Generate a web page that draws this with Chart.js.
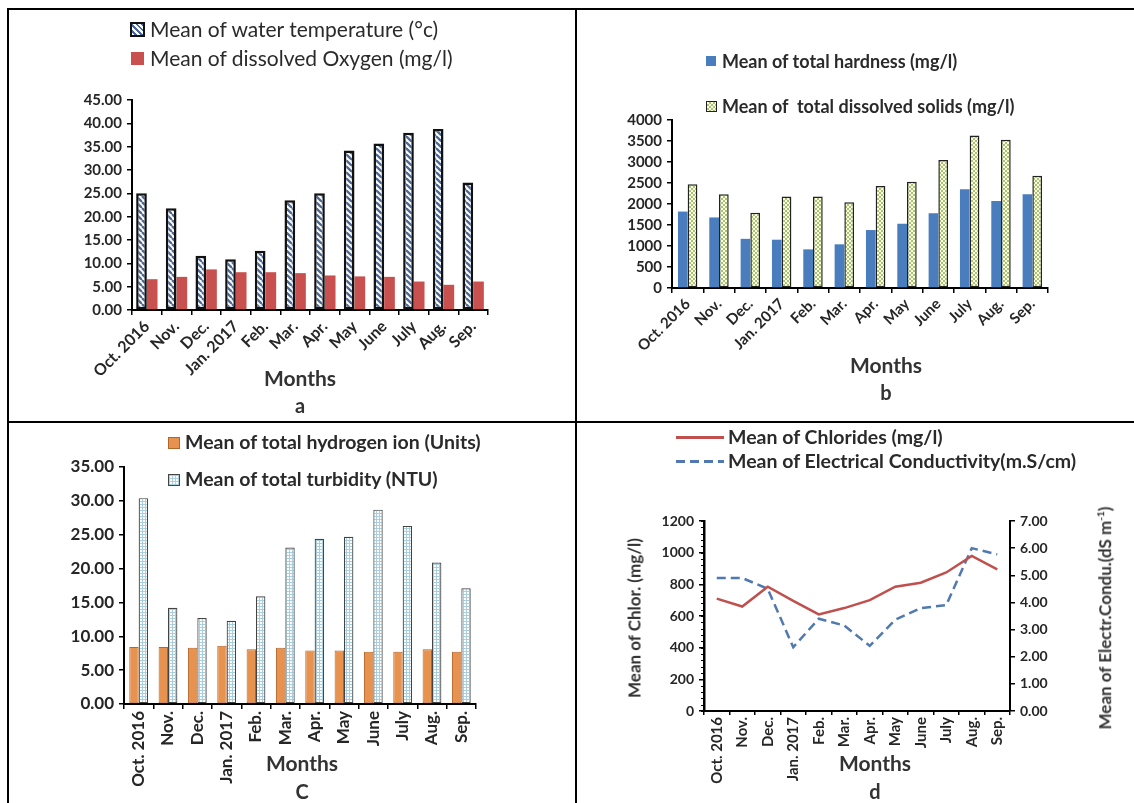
<!DOCTYPE html>
<html><head><meta charset="utf-8">
<script src="https://cdn.jsdelivr.net/npm/chart.js@4.4.1/dist/chart.umd.min.js"></script>
<style>
html,body{margin:0;padding:0;background:#fff;}
body{width:1134px;height:803px;position:relative;overflow:hidden;font-family:Lato,"Open Sans",sans-serif;color:#333;}
.ln{position:absolute;background:#000;}
canvas{position:absolute;}
.lg{position:absolute;white-space:pre;line-height:1;color:#2a2a2a;}
.mk{position:absolute;box-sizing:border-box;}
.t{position:absolute;white-space:pre;line-height:1;transform:translate(-50%,-50%);font-weight:700;color:#333;}
</style></head><body>

<div class="ln" style="left:7px;top:8px;width:1127px;height:2px"></div>
<div class="ln" style="left:7px;top:8px;width:2px;height:795px"></div>
<div class="ln" style="left:575px;top:8px;width:2px;height:795px"></div>
<div class="ln" style="left:7px;top:421px;width:1127px;height:2px"></div>

<canvas id="ca"></canvas>
<canvas id="cb"></canvas>
<canvas id="cc"></canvas>
<canvas id="cd"></canvas>

<!-- panel a legend -->
<div class="mk" style="left:130px;top:22px;width:15px;height:15px;border:2px solid #111;background:repeating-linear-gradient(45deg,#fff 0 2px,#4a6a9e 2px 4px)"></div>
<div class="lg" style="left:150px;top:18px;font-size:21px">Mean of water temperature (°c)</div>
<div class="mk" style="left:131px;top:52px;width:13px;height:13px;background:#c8504e"></div>
<div class="lg" style="left:150px;top:47px;font-size:21px">Mean of dissolved Oxygen (mg/l)</div>
<div class="t" style="left:300px;top:377px;font-size:21px">Months</div>
<div class="t" style="left:300px;top:405px;font-size:20px">a</div>

<!-- panel b legend -->
<div class="mk" style="left:706px;top:56px;width:10px;height:10px;background:#4a7dbd"></div>
<div class="lg" style="left:722px;top:52px;font-size:18px;font-weight:700">Mean of total hardness (mg/l)</div>
<div class="mk" style="left:706px;top:101px;width:11px;height:11px;border:1px solid #222;background:repeating-conic-gradient(#a9c46c 0 25%,#fbfde8 0 50%) 0 0/4px 4px"></div>
<div class="lg" style="left:722px;top:97px;font-size:18px;font-weight:700">Mean of  total dissolved solids (mg/l)</div>
<div class="t" style="left:886px;top:364px;font-size:21px">Months</div>
<div class="t" style="left:886px;top:392px;font-size:20px">b</div>

<!-- panel c legend -->
<div class="mk" style="left:168px;top:437px;width:12px;height:12px;border:1px solid #b5652a;background:#e8924f"></div>
<div class="lg" style="left:185px;top:432px;font-size:19.5px;font-weight:700">Mean of total hydrogen ion (Units)</div>
<div class="mk" style="left:168px;top:474px;width:12px;height:12px;border:1px solid #444;background-color:#fff;background-image:linear-gradient(#a8cfe0 1px,transparent 1px),linear-gradient(90deg,#a8cfe0 1px,transparent 1px);background-size:3px 3px"></div>
<div class="lg" style="left:185px;top:469px;font-size:19.5px;font-weight:700">Mean of total turbidity (NTU)</div>
<div class="t" style="left:302px;top:762px;font-size:21px">Months</div>
<div class="t" style="left:302px;top:791px;font-size:20px">C</div>

<!-- panel d legend -->
<div class="mk" style="left:676px;top:436px;width:48px;height:3px;background:#c0504d"></div>
<div class="lg" style="left:728px;top:427px;font-size:19.5px;font-weight:700">Mean of Chlorides (mg/l)</div>
<div class="mk" style="left:676px;top:460px;width:48px;height:3px;background:repeating-linear-gradient(90deg,#4f79b0 0 9px,transparent 9px 14px)"></div>
<div class="lg" style="left:728px;top:451px;font-size:19.5px;font-weight:700">Mean of Electrical Conductivity(m.S/cm)</div>
<div class="t" style="left:634px;top:618px;font-size:17px;transform:translate(-50%,-50%) rotate(-90deg)">Mean of Chlor. (mg/l)</div>
<div class="t" style="left:1104px;top:618px;font-size:17px;transform:translate(-50%,-50%) rotate(-90deg)">Mean of Electr.Condu.(dS m<sup style="font-size:10px">-1</sup>)</div>
<div class="t" style="left:875px;top:762px;font-size:21px">Months</div>
<div class="t" style="left:875px;top:791px;font-size:20px">d</div>

<script>
// ---------------- data ----------------
const months = ['Oct. 2016','Nov.','Dec.','Jan. 2017','Feb.','Mar.','Apr.','May','June','July','Aug.','Sep.'];

const waterTemp = [25.0, 21.8, 11.6, 10.9, 12.7, 23.5, 25.0, 34.2, 35.7, 38.0, 38.8, 27.3];
const dissolvedOxygen = [6.6, 7.1, 8.7, 8.1, 8.1, 7.9, 7.4, 7.2, 7.1, 6.1, 5.4, 6.1];
const tempTicks = [0, 5, 10, 15, 20, 25, 30, 35, 40, 45];

const totalHardness = [1820, 1680, 1170, 1150, 920, 1040, 1380, 1530, 1780, 2350, 2070, 2230];
const totalDissolvedSolids = [2470, 2230, 1790, 2180, 2180, 2040, 2430, 2530, 3050, 3630, 3530, 2670];
const hardTicks = [0, 500, 1000, 1500, 2000, 2500, 3000, 3500, 4000];

const hydrogenIon = [8.4, 8.4, 8.3, 8.6, 8.1, 8.3, 7.9, 7.9, 7.7, 7.7, 8.1, 7.7];
const turbidity = [30.4, 14.2, 12.7, 12.3, 15.9, 23.1, 24.4, 24.7, 28.7, 26.3, 20.9, 17.1];
const phTicks = [0, 5, 10, 15, 20, 25, 30, 35];

const chlorides = [710, 660, 785, 695, 610, 650, 700, 785, 810, 875, 980, 895];
const conductivity = [4.90, 4.90, 4.50, 2.35, 3.40, 3.15, 2.40, 3.36, 3.79, 3.90, 6.00, 5.77];
const chlorTicks = [0, 200, 400, 600, 800, 1000, 1200];
const ecTicks = [0, 1, 2, 3, 4, 5, 6, 7];

// ---------------- layout ----------------
const FONT = 'Lato, "Open Sans", sans-serif';
Chart.defaults.font.family = FONT;
Chart.defaults.color = '#262626';

function place(id, rect){
  const c = document.getElementById(id);
  c.style.left = rect.x + 'px'; c.style.top = rect.y + 'px';
  c.width = rect.w; c.height = rect.h;
  c.style.width = rect.w + 'px'; c.style.height = rect.h + 'px';
  return c;
}
function geom(rect, plot){
  return {padTop: plot.t - rect.y, padRight: rect.x + rect.w - plot.r,
          yW: plot.l - rect.x, xH: rect.y + rect.h - plot.b};
}
function tileCanvas(w, h, draw){
  const t = document.createElement('canvas'); t.width = w; t.height = h;
  draw(t.getContext('2d'), w, h); return t;
}
function patterns(ctx){
  const hatch = ctx.createPattern(tileCanvas(6, 6, (g, s) => {
    g.fillStyle = '#fff'; g.fillRect(0, 0, s, s);
    g.strokeStyle = '#4a6a9e'; g.lineWidth = 2.3;
    for (let k = -1; k <= 1; k++){ g.beginPath(); g.moveTo(k*s, 0); g.lineTo(k*s + s, s); g.stroke(); }
  }), 'repeat');
  const checker = ctx.createPattern(tileCanvas(4, 4, (g) => {
    g.fillStyle = '#fbfde8'; g.fillRect(0, 0, 4, 4);
    g.fillStyle = '#a9c46c'; g.fillRect(0, 0, 2, 2); g.fillRect(2, 2, 2, 2);
  }), 'repeat');
  const grid = ctx.createPattern(tileCanvas(3, 3, (g) => {
    g.fillStyle = '#fff'; g.fillRect(0, 0, 3, 3);
    g.fillStyle = '#a8cfe0'; g.fillRect(0, 0, 3, 1); g.fillRect(0, 0, 1, 3);
  }), 'repeat');
  return {hatch, checker, grid};
}
function xAxis(g, rot, size){
  return {
    offset: true,
    grid: {display: true, drawOnChartArea: false, drawTicks: true, tickLength: 5, color: '#000', lineWidth: 1.5, offset: true},
    border: {display: true, color: '#000', width: 2},
    ticks: {minRotation: rot, maxRotation: rot, autoSkip: false, padding: 2, color: '#262626',
            font: {size: size, weight: 'bold'}},
    afterFit(s){ s.height = g.xH; }
  };
}
function yAxis(g, list, min, max, fmt, size, extra){
  return Object.assign({
    min: min, max: max,
    afterBuildTicks(s){ s.ticks = list.map(v => ({value: v})); },
    grid: {display: true, drawOnChartArea: false, drawTicks: true, tickLength: 5, color: '#000', lineWidth: 1.5},
    border: {display: true, color: '#000', width: 2},
    ticks: {callback: fmt, padding: 5, color: '#262626', font: {size: size, weight: 'bold'}},
    afterFit(s){ s.width = g.yW; }
  }, extra || {});
}
const baseOpts = (g) => ({
  responsive: false, animation: false, devicePixelRatio: 1,
  layout: {padding: {top: g.padTop, right: g.padRight, left: 0, bottom: 0}},
  plugins: {legend: {display: false}, tooltip: {enabled: false}}
});

// ---------------- panel a ----------------
(function(){
  const rect = {x: 10, y: 10, w: 565, h: 411};
  const g = geom(rect, {l: 132, r: 488, t: 100, b: 310});
  const c = place('ca', rect);
  const p = patterns(c.getContext('2d'));
  const o = baseOpts(g);
  o.scales = {x: xAxis(g, 45, 16), y: yAxis(g, tempTicks, 0, 45, v => v.toFixed(2), 15)};
  new Chart(c, {type: 'bar', data: {labels: months, datasets: [
    {label: 'Mean of water temperature (°c)', data: waterTemp, backgroundColor: p.hatch,
     borderColor: '#111', borderWidth: 2.5, borderSkipped: false, categoryPercentage: 0.72, barPercentage: 1},
    {label: 'Mean of dissolved Oxygen (mg/l)', data: dissolvedOxygen, backgroundColor: '#c8504e',
     borderWidth: 0, categoryPercentage: 0.72, barPercentage: 1}
  ]}, options: o});
})();

// ---------------- panel b ----------------
(function(){
  const rect = {x: 577, y: 10, w: 557, h: 411};
  const g = geom(rect, {l: 672, r: 1048, t: 120, b: 288});
  const c = place('cb', rect);
  const p = patterns(c.getContext('2d'));
  const o = baseOpts(g);
  o.scales = {x: xAxis(g, 45, 15), y: yAxis(g, hardTicks, 0, 4000, v => String(v), 15)};
  new Chart(c, {type: 'bar', data: {labels: months, datasets: [
    {label: 'Mean of total hardness (mg/l)', data: totalHardness, backgroundColor: '#4a7dbd',
     borderWidth: 0, categoryPercentage: 0.62, barPercentage: 1},
    {label: 'Mean of  total dissolved solids (mg/l)', data: totalDissolvedSolids, backgroundColor: p.checker,
     borderColor: '#222', borderWidth: 1.5, borderSkipped: false, categoryPercentage: 0.62, barPercentage: 1}
  ]}, options: o});
})();

// ---------------- panel c ----------------
(function(){
  const rect = {x: 10, y: 423, w: 565, h: 380};
  const g = geom(rect, {l: 124, r: 476, t: 467, b: 704});
  const c = place('cc', rect);
  const p = patterns(c.getContext('2d'));
  const o = baseOpts(g);
  o.scales = {x: xAxis(g, 90, 17), y: yAxis(g, phTicks, 0, 35, v => v.toFixed(2), 17)};
  new Chart(c, {type: 'bar', data: {labels: months, datasets: [
    {label: 'Mean of total hydrogen ion (Units)', data: hydrogenIon, backgroundColor: '#e8924f',
     borderColor: '#b5652a', borderWidth: 1, borderSkipped: false, categoryPercentage: 0.64, barPercentage: 1},
    {label: 'Mean of total turbidity (NTU)', data: turbidity, backgroundColor: p.grid,
     borderColor: '#444', borderWidth: 1.2, borderSkipped: false, categoryPercentage: 0.64, barPercentage: 1}
  ]}, options: o});
})();

// ---------------- panel d ----------------
(function(){
  const rect = {x: 577, y: 423, w: 557, h: 380};
  const plot = {l: 704, r: 1010, t: 521, b: 711};
  const g = geom(rect, plot);
  const gRight = {yW: rect.x + rect.w - plot.r};
  const c = place('cd', rect);
  const o = baseOpts(g);
  o.layout.padding.right = 0;
  o.scales = {
    x: xAxis(g, 90, 15),
    y: yAxis(g, chlorTicks, 0, 1200, v => String(v), 14, {position: 'left'}),
    y2: yAxis(gRight, ecTicks, 0, 7, v => v.toFixed(2), 14, {position: 'right'})
  };
  o.scales.y.border.width = 2.5;
  o.scales.x.grid.tickLength = 4;
  const minorTicks = {id: 'minorTicks', afterDraw(chart){
    const s = chart.scales.y, ctx = chart.ctx;
    ctx.save(); ctx.strokeStyle = '#000'; ctx.lineWidth = 1;
    for (let v = 0; v <= 1200; v += 40){
      const y = Math.round(s.getPixelForValue(v)) + 0.5;
      ctx.beginPath(); ctx.moveTo(s.right - 3, y); ctx.lineTo(s.right, y); ctx.stroke();
    }
    ctx.restore();
  }};
  new Chart(c, {type: 'line', data: {labels: months, datasets: [
    {label: 'Mean of Chlorides (mg/l)', data: chlorides, yAxisID: 'y', borderColor: '#c0504d',
     borderWidth: 2.5, pointRadius: 0, tension: 0, fill: false},
    {label: 'Mean of Electrical Conductivity(m.S/cm)', data: conductivity, yAxisID: 'y2', borderColor: '#4f79b0',
     borderWidth: 2.5, borderDash: [9, 5], pointRadius: 0, tension: 0, fill: false}
  ]}, options: o, plugins: [minorTicks]});
})();
</script>
</body></html>
